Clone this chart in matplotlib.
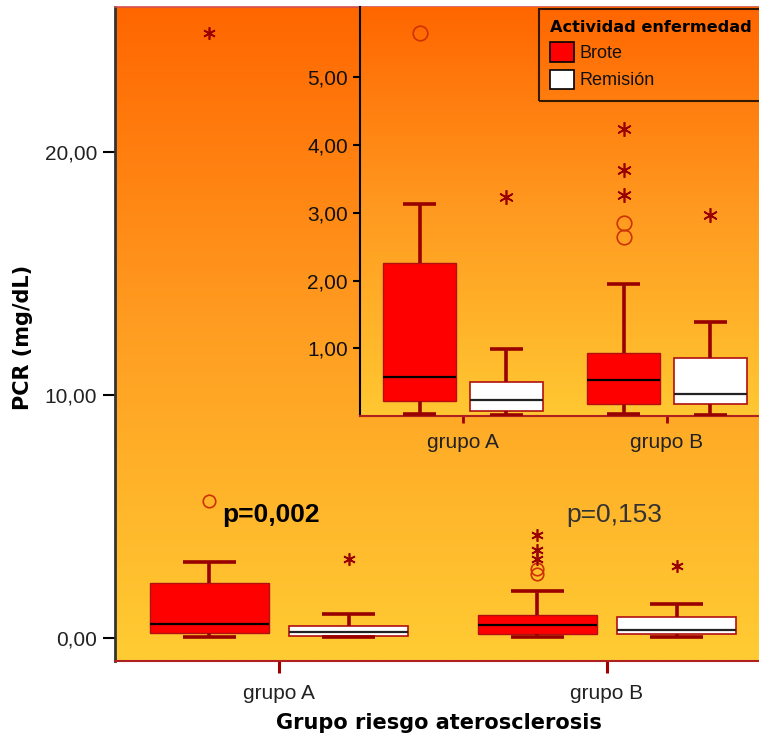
import numpy as np
import matplotlib
matplotlib.use("Agg")
import matplotlib.pyplot as plt
from matplotlib.colors import LinearSegmentedColormap
from matplotlib.patches import Patch

plt.rcParams["font.family"] = ["Liberation Sans", "DejaVu Sans"]

# ---------------------------------------------------------------- data
groups = ["grupo A", "grupo B"]
series = ["Brote", "Remisión"]

# five-number summaries per risk group (whisker low, Q1, median, Q3, whisker high)
brote_whislo = [0.03, 0.03]
brote_q1 = [0.22, 0.18]
brote_med = [0.58, 0.53]
brote_q3 = [2.26, 0.93]
brote_whishi = [3.13, 1.95]

remision_whislo = [0.02, 0.02]
remision_q1 = [0.07, 0.18]
remision_med = [0.24, 0.32]
remision_q3 = [0.50, 0.85]
remision_whishi = [0.99, 1.39]

# outliers (o) and extreme values (*) per risk group
brote_outliers = [[5.65], [2.85, 2.64]]
brote_extremes = [[24.9], [3.26, 3.63, 4.24]]
remision_outliers = [[], []]
remision_extremes = [[3.23], [2.97]]

p_labels = ["p=0,002", "p=0,153"]

main_yticks = [0, 10, 20]
main_yticklabels = ["0,00", "10,00", "20,00"]
inset_yticks = [1, 2, 3, 4, 5]
inset_yticklabels = ["1,00", "2,00", "3,00", "4,00", "5,00"]

# ---------------------------------------------------------------- style
RED = "#FF0000"
DARKRED = "#990000"
EDGE_RED = "#B01010"
OUT_COL = "#CC3300"
OFFSET = 0.212
BOX_W = 0.36
CAP_W = 0.16

W, H = 759, 742
fig = plt.figure(figsize=(W / 100, H / 100), dpi=100)
fig.patch.set_facecolor("white")


def px_axes(left, top, right, bottom):
    return fig.add_axes([left / W, 1 - bottom / H, (right - left) / W, (bottom - top) / H])


def gradient(ax, stops):
    cmap = LinearSegmentedColormap.from_list("bg", stops)
    grad = np.linspace(0, 1, 512).reshape(-1, 1)
    ax.imshow(grad, extent=[0, 1, 0, 1], transform=ax.transAxes, origin="lower",
              cmap=cmap, aspect="auto", zorder=0, interpolation="bilinear")


def stats_for(lo, q1, med, q3, hi):
    return [dict(whislo=a, q1=b, med=c, q3=d, whishi=e, fliers=[])
            for a, b, c, d, e in zip(lo, q1, med, q3, hi)]


def draw_boxes(ax, wlw, msize):
    pos = np.arange(len(groups))
    common = dict(widths=BOX_W, patch_artist=True, showfliers=False,
                  manage_ticks=False, capwidths=CAP_W,
                  whiskerprops=dict(color=DARKRED, lw=wlw, solid_capstyle="butt"),
                  capprops=dict(color=DARKRED, lw=wlw, solid_capstyle="butt"))
    ax.bxp(stats_for(brote_whislo, brote_q1, brote_med, brote_q3, brote_whishi),
           positions=pos - OFFSET,
           boxprops=dict(facecolor=RED, edgecolor=EDGE_RED, lw=1.0),
           medianprops=dict(color="black", lw=1.6), zorder=3, **common)
    ax.bxp(stats_for(remision_whislo, remision_q1, remision_med, remision_q3, remision_whishi),
           positions=pos + OFFSET,
           boxprops=dict(facecolor="white", edgecolor=EDGE_RED, lw=1.2),
           medianprops=dict(color="#222222", lw=1.6), zorder=3, **common)
    for i in range(len(groups)):
        for xs, outs, exts in ((i - OFFSET, brote_outliers[i], brote_extremes[i]),
                               (i + OFFSET, remision_outliers[i], remision_extremes[i])):
            if outs:
                ax.plot([xs] * len(outs), outs, ls="none", marker="o", ms=msize,
                        mfc="none", mec=OUT_COL, mew=1.2, zorder=4, clip_on=True)
            if exts:
                ax.plot([xs] * len(exts), exts, ls="none", marker=(6, 2, 0), ms=msize,
                        mec=DARKRED, mew=1.2, zorder=4, clip_on=True)


# ---------------------------------------------------------------- main chart
ax = px_axes(115, 7, 771, 661)
ax.set_facecolor("none")
gradient(ax, ["#FFCC33", "#FF9E22", "#FF6600"])
draw_boxes(ax, 2.6, 9)
ax.set_xlim(-0.5, 1.5)
ax.set_ylim(-0.95, 25.97)

ax.set_yticks(main_yticks)
ax.set_yticklabels(main_yticklabels, fontsize=15, color="#222222")
ax.set_xticks(range(len(groups)))
ax.set_xticklabels(groups, fontsize=15, color="#222222")
ax.tick_params(axis="y", length=8.6, width=1.5, color="black", pad=4.3)
ax.tick_params(axis="x", length=8.6, width=2.2, color="#A00000", pad=8)

ax.spines["right"].set_visible(False)
ax.spines["left"].set_color("#333333")
ax.spines["left"].set_linewidth(2)
ax.spines["bottom"].set_color("#B02020")
ax.spines["bottom"].set_linewidth(1.5)
ax.spines["top"].set_color("#D05050")
ax.spines["top"].set_linewidth(1.2)

ax.set_ylabel("PCR (mg/dL)", fontsize=15, fontweight="bold", family="DejaVu Sans")
ax.yaxis.set_label_coords((23 - 115) / 656, (661 - 337) / 654)
ax.yaxis.label.set_va("center")
ax.set_xlabel("Grupo riesgo aterosclerosis", fontsize=15, fontweight="bold",
              family="DejaVu Sans")
ax.xaxis.set_label_coords((439 - 115) / 656, (661 - 723) / 654)
ax.xaxis.label.set_va("center")

ax.text(0 - 0.024, 5.06, p_labels[0], fontsize=19, fontweight="bold",
        ha="center", va="center", color="black", zorder=5)
ax.text(1 + 0.021, 5.06, p_labels[1], fontsize=19, ha="center", va="center",
        color="#333333", zorder=5)

# ---------------------------------------------------------------- inset zoom
ins = px_axes(360, 7, 769, 416)
ins.set_facecolor("none")
gradient(ins, ["#FFC832", "#FF9A20", "#FF6600"])
draw_boxes(ins, 2.6, 10.5)
ins.set_xlim(-0.505, 1.5)
ins.set_ylim(0, 6.04)

ins.set_yticks(inset_yticks)
ins.set_yticklabels(inset_yticklabels, fontsize=15, color="#111111")
ins.set_xticks(range(len(groups)))
ins.set_xticklabels(groups, fontsize=15, color="#222222")
ins.tick_params(axis="y", length=5, width=1.5, color="black", pad=3.6)
ins.tick_params(axis="x", length=5, width=2, color="#A00000", pad=7)
ins.spines["right"].set_visible(False)
ins.spines["top"].set_visible(False)
ins.spines["left"].set_color("black")
ins.spines["left"].set_linewidth(1.5)
ins.spines["bottom"].set_color("#B02020")
ins.spines["bottom"].set_linewidth(1.5)

handles = [Patch(facecolor=RED, edgecolor="black", lw=1.2, label=series[0]),
           Patch(facecolor="white", edgecolor="black", lw=1.2, label=series[1])]
leg = ins.legend(handles=handles, title="Actividad enfermedad", loc="upper left",
                 bbox_to_anchor=(539 / W, 1 - 9 / H), bbox_transform=fig.transFigure,
                 borderaxespad=0, frameon=True, fancybox=False, edgecolor="black",
                 facecolor="none", fontsize=13,
                 title_fontproperties={"family": "DejaVu Sans", "weight": "bold",
                                       "size": 11.6},
                 alignment="left", handlelength=1.3, handleheight=1.3,
                 handletextpad=0.3, labelspacing=0.4, borderpad=0.62)
leg.get_frame().set_linewidth(1.5)
for t in leg.get_texts():
    t.set_color("#111111")

fig.savefig("out.png", dpi=100)
